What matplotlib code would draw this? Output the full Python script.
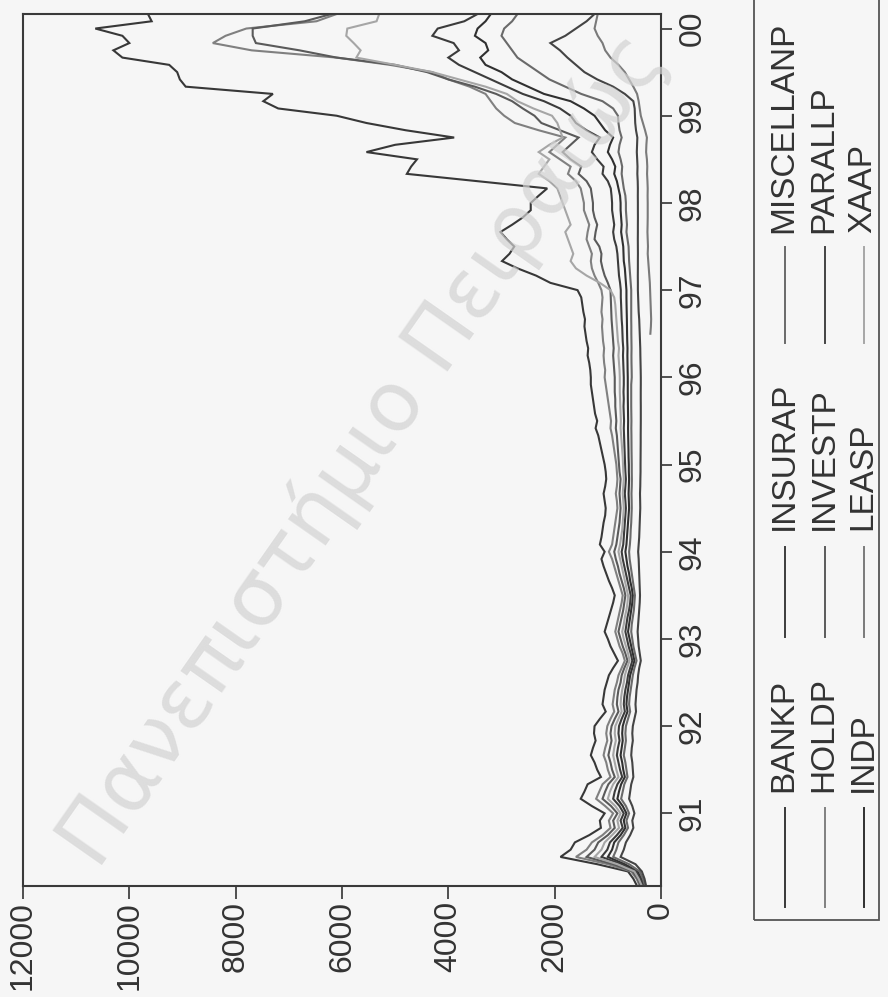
import numpy as np
import pandas as pd
import matplotlib
matplotlib.use("Agg")
import matplotlib.pyplot as plt
from matplotlib.lines import Line2D
from matplotlib.patches import Rectangle

plt.rcParams["font.family"] = ["Liberation Sans", "DejaVu Sans"]

# monthly sector price indices, 1990:03 - 2000:03
months = pd.date_range("1990-03-01", "2000-03-01", freq="MS")

bankp = [
    450, 520, 620, 1200, 1890, 1700, 1620, 1350, 1130, 1150,
    1060, 1300, 1510, 1440, 1380, 1130, 1200, 1250, 1320, 1280, 1230, 1260,
    1250, 1150, 1040, 1100, 1080, 1060, 1020, 980, 900, 810, 880, 950,
    1000, 1060, 1020, 980, 940, 900, 870, 920, 980, 1030, 1080, 1120,
    1060, 1150, 1120, 1100, 1080, 1050, 1040, 1060, 1080, 1050, 1030, 1040,
    1060, 1090, 1120, 1150, 1180, 1230, 1200, 1240, 1260, 1280, 1300, 1320,
    1320, 1330, 1350, 1380, 1370, 1400, 1420, 1440, 1430, 1460, 1480, 1500,
    1570, 2080, 2350, 2700, 2990, 2850, 2760, 2900, 3020, 2800, 2600, 2450,
    2450, 2300, 2140, 3460, 4780, 4700, 4590, 5540, 5000, 3890, 4800, 5540,
    6100, 7200, 7480, 7300, 8940, 9050, 9100, 9250, 10130, 10300, 10000, 10130,
    10640, 9580, 9650,
]
holdp = [
    400, 460, 560, 1000, 1600, 1400, 1300, 1100, 950, 980,
    900, 1050, 1220, 1160, 1100, 950, 1000, 1030, 1080, 1050, 1010, 1030,
    1010, 950, 880, 910, 890, 870, 830, 800, 740, 680, 720, 780,
    820, 860, 830, 800, 770, 740, 720, 760, 800, 840, 880, 920,
    980, 920, 900, 880, 860, 840, 820, 830, 850, 830, 820, 830,
    840, 860, 880, 900, 920, 950, 940, 960, 980, 1000, 1020, 1040,
    1060, 1050, 1070, 1080, 1070, 1090, 1100, 1110, 1100, 1120, 1110, 1100,
    1120, 1180, 1250, 1300, 1320, 1300, 1350, 1400, 1380, 1350, 1400, 1450,
    1450, 1480, 1510, 1600, 1750, 1700, 1900, 2100, 1950, 1800, 2300, 2750,
    2950, 3100, 3200, 3300, 3600, 4000, 4300, 5100, 6100, 7700, 8430, 8190,
    7800, 6480, 6100,
]
indp = [
    320, 370, 440, 680, 1000, 920, 880, 760, 670, 700,
    650, 720, 820, 790, 750, 680, 710, 730, 760, 740, 720, 730,
    720, 680, 630, 650, 640, 620, 600, 580, 540, 500, 530, 560,
    590, 620, 600, 580, 560, 540, 530, 550, 580, 600, 630, 650,
    670, 650, 640, 630, 620, 610, 600, 605, 610, 605, 600, 605,
    605, 610, 612, 615, 618, 620, 618, 620, 622, 624, 625, 625,
    625, 628, 630, 632, 630, 635, 638, 640, 642, 645, 648, 650,
    650, 660, 670, 680, 700, 705, 710, 730, 750, 740, 750, 760,
    760, 770, 800, 830, 880, 860, 920, 1000, 960, 900, 1050, 1150,
    1250, 1450, 1700, 2200, 2500, 2800, 3000, 3300, 3400, 3250, 3300, 3500,
    3450, 3300, 3200,
]
insurap = [
    340, 390, 470, 740, 1120, 1010, 960, 830, 720, 760,
    700, 780, 900, 870, 820, 730, 770, 800, 830, 810, 780, 800,
    790, 740, 680, 700, 690, 670, 640, 620, 580, 540, 570, 610,
    640, 670, 650, 630, 600, 580, 570, 600, 630, 660, 690, 720,
    740, 710, 700, 690, 680, 670, 660, 670, 680, 670, 660, 670,
    675, 680, 685, 690, 695, 700, 695, 700, 705, 700, 705, 700,
    700, 705, 710, 715, 710, 720, 725, 730, 740, 745, 750, 756,
    756, 770, 790, 800, 810, 820, 840, 880, 900, 880, 900, 920,
    920, 930, 945, 1000, 1100, 1080, 1200, 1300, 1250, 1150, 1400, 1600,
    1700, 1900, 2200, 2600, 2900, 3200, 3500, 3800, 4000, 3800, 3900, 4300,
    4200, 3700, 3450,
]
investp = [
    380, 440, 530, 900, 1400, 1250, 1180, 1000, 870, 900,
    820, 940, 1100, 1050, 990, 870, 920, 950, 990, 960, 930, 950,
    930, 870, 800, 830, 820, 800, 760, 740, 690, 630, 670, 720,
    760, 800, 770, 740, 710, 690, 670, 700, 740, 780, 810, 850,
    880, 840, 820, 800, 780, 770, 760, 770, 780, 770, 760, 780,
    790, 800, 810, 820, 830, 850, 840, 850, 860, 860, 870, 870,
    870, 880, 890, 900, 890, 900, 910, 920, 930, 935, 940, 945,
    950, 1000, 1060, 1100, 1130, 1120, 1160, 1250, 1230, 1200, 1250, 1280,
    1280, 1300, 1320, 1400, 1550, 1500, 1700, 1850, 1700, 1550, 1900, 2250,
    2380, 2600, 2800, 3100, 3500, 4000, 4400, 5000, 6100, 6800, 7620, 7680,
    7680, 6700, 6200,
]
# leasing index only starts in mid-1996
leasp = [np.nan] * 76 + [
    200, 190, 185, 190, 195, 200,
    205, 210, 220, 230, 240, 250, 245, 250, 255, 252, 250, 250,
    250, 252, 250, 255, 262, 258, 265, 280, 275, 265, 300, 340,
    380, 400, 420, 450, 520, 600, 680, 800, 950, 1050, 1100, 1190,
    1250, 1220, 1190,
]
miscellanp = [
    300, 340, 400, 600, 900, 840, 800, 700, 620, 650,
    600, 660, 750, 720, 690, 630, 650, 670, 700, 680, 660, 670,
    660, 620, 580, 600, 590, 570, 550, 530, 500, 460, 490, 520,
    540, 560, 550, 530, 510, 500, 490, 510, 530, 550, 570, 590,
    600, 585, 575, 570, 560, 555, 550, 552, 555, 550, 548, 550,
    550, 552, 554, 555, 556, 558, 556, 558, 560, 560, 560, 560,
    550, 552, 555, 556, 554, 556, 558, 558, 560, 560, 560, 560,
    560, 570, 580, 590, 600, 605, 610, 630, 650, 640, 650, 660,
    660, 670, 700, 720, 740, 730, 760, 800, 780, 740, 780, 800,
    810, 900, 1100, 1500, 1800, 2100, 2300, 2500, 2700, 2800, 2900, 3000,
    2950, 2800, 2700,
]
parallp = [
    280, 310, 360, 480, 760, 700, 660, 580, 520, 540,
    500, 540, 600, 580, 560, 520, 530, 540, 560, 550, 530, 540,
    530, 500, 470, 480, 470, 460, 440, 430, 410, 380, 400, 420,
    430, 440, 430, 420, 410, 400, 395, 400, 405, 410, 415, 420,
    430, 420, 410, 405, 400, 395, 390, 392, 395, 390, 388, 385,
    385, 384, 383, 382, 382, 381, 380, 380, 380, 381, 381, 380,
    380, 382, 385, 388, 390, 395, 400, 405, 410, 420, 425, 430,
    435, 435, 436, 435, 435, 434, 435, 436, 435, 435, 434, 435,
    435, 436, 435, 438, 445, 442, 448, 455, 450, 445, 470, 485,
    490, 495, 520, 680, 900, 1200, 1440, 1600, 1760, 1900, 2080, 1800,
    1600, 1400, 1250,
]
xaap = [
    360, 420, 500, 820, 1250, 1120, 1060, 920, 790, 820,
    760, 860, 1000, 960, 900, 800, 840, 870, 900, 880, 850, 870,
    860, 800, 740, 760, 750, 730, 700, 680, 640, 590, 620, 660,
    700, 730, 700, 680, 650, 630, 620, 650, 680, 710, 740, 770,
    800, 770, 750, 730, 720, 710, 700, 710, 720, 710, 700, 710,
    715, 720, 730, 740, 750, 760, 755, 760, 765, 770, 775, 775,
    775, 780, 790, 800, 790, 810, 820, 830, 840, 850, 860, 880,
    950, 1150, 1400, 1600, 1700, 1650, 1700, 1750, 1800, 1700, 1750, 1800,
    1850, 1900, 1950, 2100, 2300, 2200, 2100, 2300, 2100, 1850, 1900, 1950,
    2050, 2400, 2700, 2900, 3300, 3800, 4300, 5000, 5730, 5650, 5780, 5920,
    5900, 5350, 5300,
]

names = ["BANKP", "HOLDP", "INDP", "INSURAP", "INVESTP", "LEASP",
         "MISCELLANP", "PARALLP", "XAAP"]
series = [bankp, holdp, indp, insurap, investp, leasp, miscellanp, parallp, xaap]
colors = ["#383838", "#808080", "#303030", "#3c3c3c", "#5a5a5a", "#7a7a7a",
          "#6a6a6a", "#444444", "#a6a6a6"]

value_ticks = [0, 2000, 4000, 6000, 8000, 10000, 12000]
year_ticks = list(range(1991, 2001))
year_labels = ["91", "92", "93", "94", "95", "96", "97", "98", "99", "00"]

t = months.year + (months.month - 1) / 12.0

W, H = 888, 997
bg = "#f6f6f6"
fig = plt.figure(figsize=(W / 100, H / 100), dpi=100, facecolor=bg)

# the page is printed sideways: values run right-to-left, time bottom-to-top
ax = fig.add_axes([23 / W, 1 - 886 / H, (661 - 23) / W, (886 - 14) / H])
ax.set_facecolor(bg)
for vals, c in zip(series, colors):
    ax.plot(vals, t, color=c, lw=1.5, solid_joinstyle="miter")

ax.set_xlim(12000, 0)
ax.set_ylim(t[0], t[-1])
ax.set_xticks(value_ticks)
ax.set_xticklabels([str(v) for v in value_ticks])
ax.yaxis.tick_right()
ax.set_yticks(year_ticks)
ax.set_yticklabels(year_labels)
ax.tick_params(axis="x", direction="out", length=9, width=1.2, pad=2,
               labelsize=23, labelrotation=90, colors="#333333")
ax.tick_params(axis="y", direction="out", length=8, width=1.2, pad=4,
               labelsize=23, colors="#333333")
for lab in ax.get_yticklabels():
    lab.set_rotation(90)
    lab.set_va("center")
for sp in ax.spines.values():
    sp.set_linewidth(1.5)
    sp.set_color("#3a3a3a")


def fx(x):
    return x / W


def fy(y):
    return 1 - y / H


# legend, three blocks of three entries, drawn sideways
fig.add_artist(Rectangle((fx(754), fy(920)), fx(879 - 754), (920 + 5) / H,
                         transform=fig.transFigure, fill=False,
                         lw=1.3, ec="#555555"))
col_x = [784, 824, 863]
block_line = [(907, 808), (637, 547), (343, 247)]
block_text = [792, 530, 233]
for i, (name, c) in enumerate(zip(names, colors)):
    b, r = divmod(i, 3)
    y0, y1 = block_line[b]
    fig.add_artist(Line2D([fx(col_x[r] + 1)] * 2, [fy(y0), fy(y1)],
                          transform=fig.transFigure, color=c, lw=1.4))
    fig.text(fx(col_x[r]), fy(block_text[b]), name, rotation=90,
             ha="center", va="bottom", fontsize=24, color="#333333")

# library stamp across the page
fig.text(fx(362), fy(450), "Πανεπιστήμιο Πειραιώς", rotation=55,
         ha="center", va="center", fontsize=60, color="#d2d2d2",
         alpha=0.7, family="DejaVu Sans", zorder=5)

fig.savefig("out.png", dpi=100, facecolor=bg)
